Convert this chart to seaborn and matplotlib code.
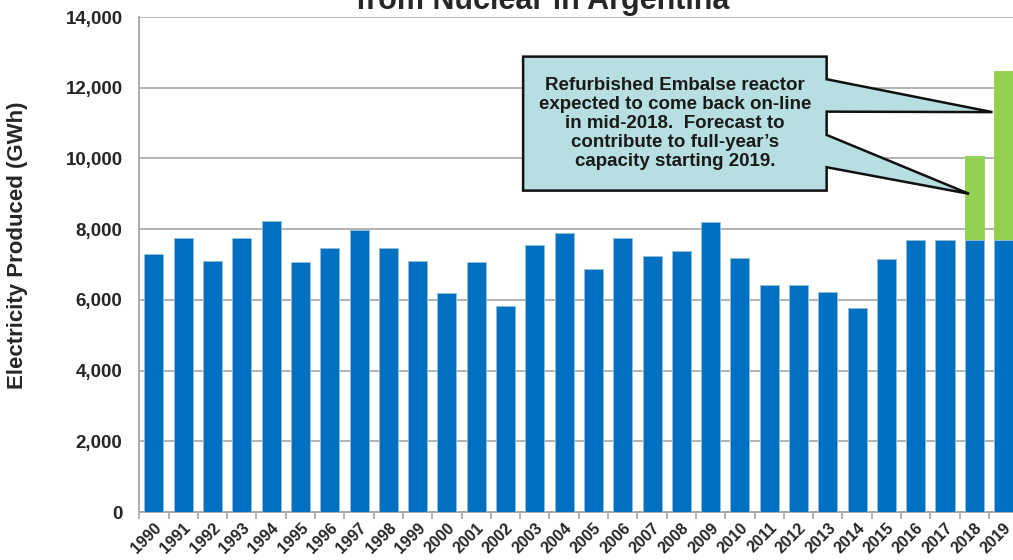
import numpy as np
import pandas as pd
import matplotlib
matplotlib.use("Agg")
import matplotlib.pyplot as plt
from matplotlib.patches import Polygon
import seaborn as sns

# values (GWh)
years = [str(y) for y in range(1990, 2020)]
produced = [7290, 7740, 7110, 7740, 8240, 7060, 7480, 7990, 7480, 7110,
            6190, 7060, 5830, 7560, 7880, 6880, 7740, 7240, 7370, 8190,
            7190, 6410, 6410, 6230, 5780, 7150, 7690, 7690, 7690, 7690]
# extra output forecast from the refurbished Embalse reactor
embalse_extra = [0] * 28 + [2380, 4790]

df = pd.DataFrame({"Year": years, "Produced": produced, "Extra": embalse_extra})
df["Total"] = df["Produced"] + df["Extra"]

sns.set_theme(style="white")
plt.rcParams['font.family'] = ['Liberation Sans', 'DejaVu Sans']
plt.rcParams['font.weight'] = 'bold'

fig = plt.figure(figsize=(10.13, 5.6), dpi=100)
ax = fig.add_axes([0.1375, 0.0857, 0.8677, 0.8839])

# green = total incl. forecast, blue drawn over it = base production
sns.barplot(data=df, x="Year", y="Total", color="#92D050", width=0.65,
            saturation=1, edgecolor="#92D050", linewidth=0.6, ax=ax, zorder=2)
sns.barplot(data=df, x="Year", y="Produced", color="#0070C0", width=0.65,
            saturation=1, edgecolor="#9DC3E6", linewidth=0.6, ax=ax, zorder=3)

ax.set_ylim(0, 14000)
ax.set_xlim(-0.467, 29.5)
ax.set_yticks(np.arange(0, 14001, 2000))
ax.set_yticklabels([f"{v:,}" for v in range(0, 14001, 2000)], fontsize=13.5,
                   fontweight='bold')
ax.yaxis.grid(True, color="#A6A6A6", linewidth=1.2, zorder=0)
ax.set_axisbelow(True)
ax.tick_params(axis='y', length=0, pad=12)

# labels at bar centres, tick marks on category boundaries
ax.set_xticks(range(len(years)))
ax.set_xticklabels(years, rotation=45, ha='right', rotation_mode='anchor',
                   fontsize=11.5, fontweight='bold')
ax.tick_params(axis='x', which='major', length=0, pad=6)
ax.set_xticks(np.arange(-0.5, len(years), 1.0), minor=True)
ax.tick_params(axis='x', which='minor', length=5, width=1.2, color="#A6A6A6",
               direction='out', bottom=True)

ax.set_xlabel("")
ax.set_ylabel("")
for side in ["top", "right"]:
    ax.spines[side].set_visible(False)
for side in ["left", "bottom"]:
    ax.spines[side].set_color("#A6A6A6")
    ax.spines[side].set_linewidth(1.3)

fig.text(18 / 1013, 1 - 245 / 560, "Electricity Produced (GWh)", rotation=90,
         ha='center', va='center', fontsize=16, fontweight='bold')
# title line is cut by the top edge in the reference too
fig.text(543 / 1013, 1 - 9 / 560, "from Nuclear in Argentina", ha='center',
         va='baseline', fontsize=22, fontweight='bold')

# callout box with two pointers to the 2018 / 2019 bars
bx0, bx1, by0, by1 = 12.6, 22.96, 9090, 12880
callout = [(bx0, by1), (bx1, by1),
           (bx1, 12240), (28.62, 11310), (bx1, 11324),
           (bx1, 10665), (27.82, 9000), (bx1, 9751),
           (bx1, by0), (bx0, by0)]
ax.add_patch(Polygon(callout, closed=True, facecolor="#B7DEE1",
                     edgecolor="#111111", linewidth=1.8, zorder=5,
                     clip_on=False, joinstyle='miter'))
ax.text((bx0 + bx1) / 2, (by0 + by1) / 2,
        "Refurbished Embalse reactor\nexpected to come back on-line\n"
        "in mid-2018.  Forecast to\ncontribute to full-year\u2019s\n"
        "capacity starting 2019.",
        ha='center', va='center', fontsize=13.5, fontweight='bold',
        color="#1A1A1A", zorder=6, linespacing=1.15)

fig.savefig("out.png", dpi=100)
